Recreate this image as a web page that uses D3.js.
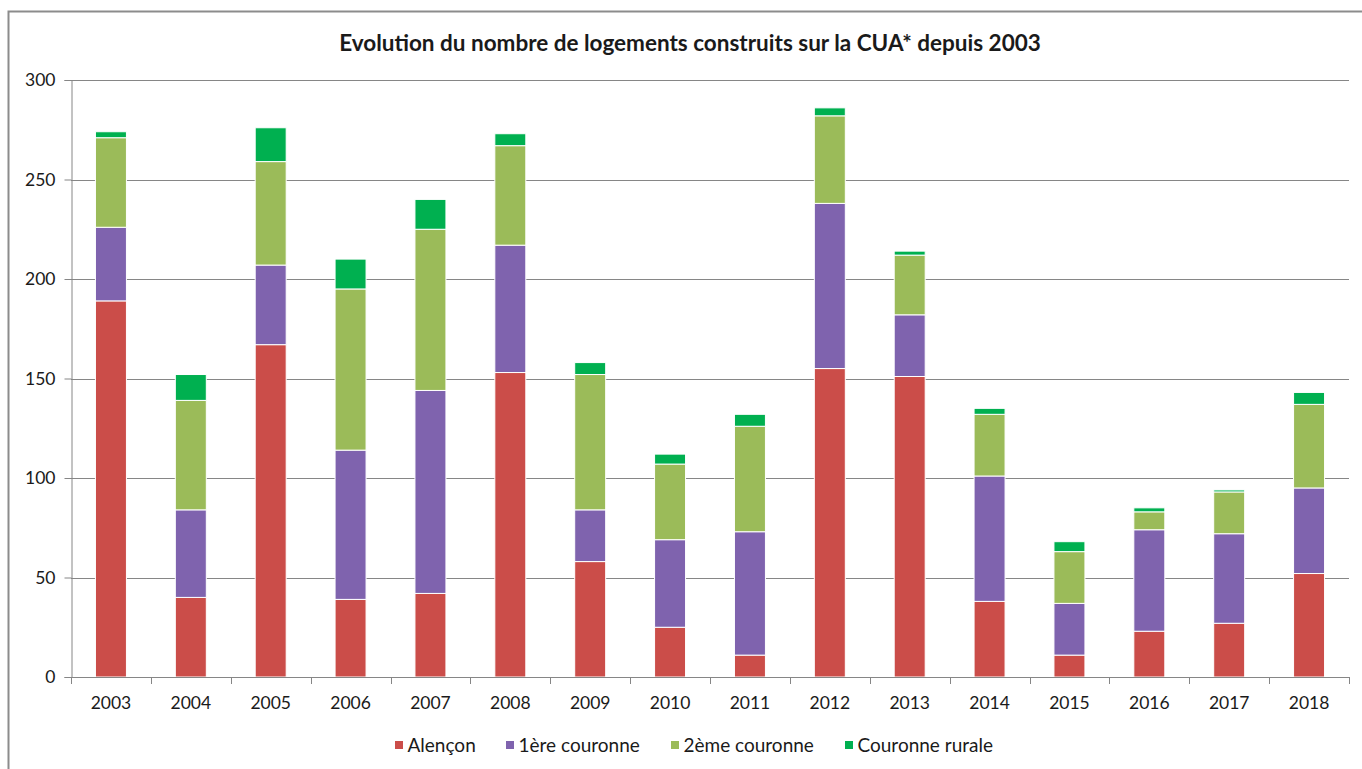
<!DOCTYPE html>
<html>
<head>
<meta charset="utf-8">
<script src="https://cdn.jsdelivr.net/npm/d3@7"></script>
<style>
  html, body { margin: 0; padding: 0; background: #fff; }
  svg { display: block; }
  text { font-family: Lato, "Open Sans", sans-serif; fill: #1a1a1a; }
</style>
</head>
<body>
<svg id="chart" width="1362" height="769"></svg>
<script>
// Housing units built per year, split by zone
const years = ["2003","2004","2005","2006","2007","2008","2009","2010","2011","2012","2013","2014","2015","2016","2017","2018"];
const alencon     = [189, 40, 167, 39, 42, 153, 58, 25, 11, 155, 151, 38, 11, 23, 27, 52];
const couronne1   = [ 37, 44,  40, 75,102,  64, 26, 44, 62,  83,  31, 63, 26, 51, 45, 43];
const couronne2   = [ 45, 55,  52, 81, 81,  50, 68, 38, 53,  44,  30, 31, 26,  9, 21, 42];
const rurale      = [  3, 13,  17, 15, 15,   6,  6,  5,  6,   4,   2,  3,  5,  2,  1,  6];
const seriesNames = ["Alençon", "1ère couronne", "2ème couronne", "Couronne rurale"];
const yTicks = [0, 50, 100, 150, 200, 250, 300];
const colors = ["#CB4D49", "#7F63AE", "#9BBB59", "#00B050"];

const rows = years.map((yr, i) => ({
  year: yr,
  "Alençon": alencon[i],
  "1ère couronne": couronne1[i],
  "2ème couronne": couronne2[i],
  "Couronne rurale": rurale[i]
}));

const svg = d3.select("#chart");
const plotLeft = 71, plotRight = 1349, plotTop = 80, plotBottom = 677;

// frame of the chart area
svg.append("path")
  .attr("d", "M8.5,769 L8.5,11.5 L1362,11.5")
  .attr("fill", "none").attr("stroke", "#8c8c8c").attr("stroke-width", 2);

const x = d3.scaleBand().domain(years).range([plotLeft, plotRight])
  .paddingInner(0.612).paddingOuter(0.306);
const y = d3.scaleLinear().domain([0, 300]).range([plotBottom, plotTop]);

// horizontal gridlines
svg.append("g").selectAll("line").data(yTicks.slice(1)).join("line")
  .attr("x1", plotLeft).attr("x2", plotRight)
  .attr("y1", d => Math.round(y(d)) + 0.5).attr("y2", d => Math.round(y(d)) + 0.5)
  .attr("stroke", "#868686").attr("stroke-width", 1);

// y axis
const yAxis = svg.append("g").attr("transform", `translate(${plotLeft + 0.5},0)`)
  .call(d3.axisLeft(y).tickValues(yTicks).tickSize(7).tickPadding(9));
yAxis.select(".domain").attr("stroke", "#868686");
yAxis.selectAll(".tick line").attr("stroke", "#868686");
yAxis.selectAll(".tick text").style("font-size", "17.5px").attr("fill", "#1a1a1a");

// stacked bars
const stack = d3.stack().keys(seriesNames);
const layers = stack(rows);
svg.append("g").selectAll("g").data(layers).join("g")
  .attr("fill", (d, i) => colors[i])
  .selectAll("rect").data(d => d).join("rect")
  .attr("x", d => x(d.data.year))
  .attr("width", x.bandwidth())
  .attr("y", d => y(d[1]))
  .attr("height", d => y(d[0]) - y(d[1]))
  .attr("stroke", "#ffffff").attr("stroke-width", 1);

// x axis line and boundary ticks
const step = x.step();
svg.append("line")
  .attr("x1", plotLeft).attr("x2", plotRight)
  .attr("y1", plotBottom + 0.5).attr("y2", plotBottom + 0.5)
  .attr("stroke", "#868686");
svg.append("g").selectAll("line").data(d3.range(years.length + 1)).join("line")
  .attr("x1", i => Math.round(plotLeft + i * step) + 0.5)
  .attr("x2", i => Math.round(plotLeft + i * step) + 0.5)
  .attr("y1", plotBottom).attr("y2", plotBottom + 7)
  .attr("stroke", "#868686");
svg.append("g").selectAll("text").data(years).join("text")
  .attr("x", d => x(d) + x.bandwidth() / 2)
  .attr("y", 709)
  .attr("text-anchor", "middle")
  .style("font-size", "17.5px")
  .text(d => d);

// title
svg.append("text")
  .attr("x", 690).attr("y", 51)
  .attr("text-anchor", "middle")
  .style("font-size", "22.5px").style("font-weight", "bold")
  .text("Evolution du nombre de logements construits sur la CUA* depuis 2003");

// legend
const legendX = [395, 506, 671, 845];
const legend = svg.append("g").selectAll("g").data(seriesNames).join("g")
  .attr("transform", (d, i) => `translate(${legendX[i]},745)`);
legend.append("rect").attr("x", 0).attr("y", -4).attr("width", 8).attr("height", 8)
  .attr("fill", (d, i) => colors[i]);
legend.append("text").attr("x", 12.5).attr("y", 6.5)
  .style("font-size", "19px").text(d => d);
</script>
</body>
</html>
